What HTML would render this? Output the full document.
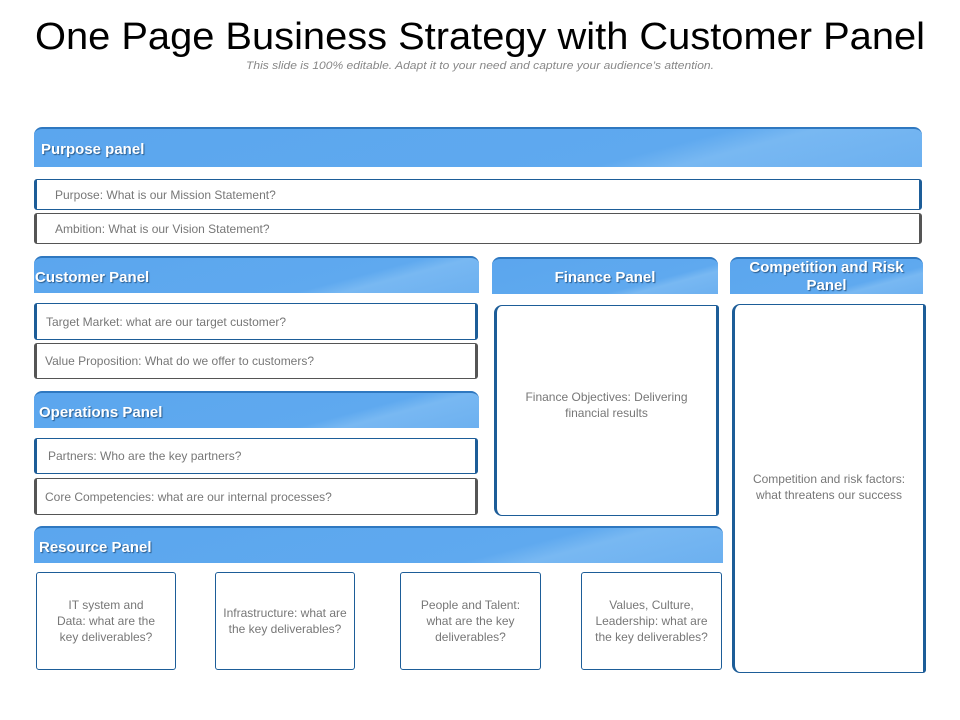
<!DOCTYPE html>
<html><head><meta charset="utf-8"><style>
body{margin:0;width:960px;height:720px;background:#fff;position:relative;overflow:hidden;font-family:"Liberation Sans",Arial,sans-serif}
.h{position:absolute;background:linear-gradient(165deg,#5ba6ee 0%,#5fa9ef 68%,#78b8f2 76%,#6cb0f0 100%);border-top:2px solid #2f78c0;border-radius:8px 8px 0 0;color:#fff;font-weight:bold;font-size:15px;text-shadow:1px 1px 1px #2a5a8a;box-sizing:border-box;padding-top:3px}
.b{position:absolute;box-sizing:border-box;border:1.5px solid #1d5d98;border-left-width:3px;border-right-width:3px;border-radius:3px;background:#fff;color:#777;font-size:12px}
.g{border-color:#555}
.c{display:flex;align-items:center;justify-content:center;text-align:center;line-height:16px}
.l{display:flex;align-items:center}
</style></head><body>
<svg style="position:absolute;left:0;top:0" width="960" height="80">
<text x="480" y="49" text-anchor="middle" font-family="Liberation Sans" font-size="38" textLength="890" lengthAdjust="spacingAndGlyphs" fill="#000">One Page Business Strategy with Customer Panel</text>
<text x="480" y="69" text-anchor="middle" font-family="Liberation Sans" font-size="11" font-style="italic" fill="#888" textLength="468" lengthAdjust="spacingAndGlyphs">This slide is 100% editable. Adapt it to your need and capture your audience’s attention.</text>
</svg>

<div class="h l" style="left:34px;top:127px;width:888px;height:40px;padding-left:7px">Purpose panel</div>
<div class="b l" style="left:34px;top:179px;width:888px;height:31px;padding-left:18px">Purpose: What is our Mission Statement?</div>
<div class="b l g" style="left:34px;top:213px;width:888px;height:31px;padding-left:18px">Ambition: What is our Vision Statement?</div>

<div class="h l" style="left:34px;top:256px;width:445px;height:37px;padding-left:1px">Customer Panel</div>
<div class="b l" style="left:34px;top:303px;width:444px;height:37px;padding-left:9px">Target Market: what are our target customer?</div>
<div class="b l g" style="left:34px;top:343px;width:444px;height:36px;padding-left:8px">Value Proposition: What do we offer to customers?</div>

<div class="h l" style="left:34px;top:391px;width:445px;height:37px;padding-left:5px">Operations Panel</div>
<div class="b l" style="left:34px;top:438px;width:444px;height:36px;padding-left:11px">Partners: Who are the key partners?</div>
<div class="b l g" style="left:34px;top:478px;width:444px;height:37px;padding-left:8px">Core Competencies: what are our internal processes?</div>

<div class="h l" style="left:34px;top:526px;width:689px;height:37px;padding-left:5px">Resource Panel</div>
<div class="b c" style="left:36px;top:572px;width:140px;height:98px;border-width:1.5px">IT system and<br>Data: what are the<br>key deliverables?</div>
<div class="b c" style="left:215px;top:572px;width:140px;height:98px;border-width:1.5px">Infrastructure: what are<br>the key deliverables?</div>
<div class="b c" style="left:400px;top:572px;width:141px;height:98px;border-width:1.5px">People and Talent:<br>what are the key<br>deliverables?</div>
<div class="b c" style="left:581px;top:572px;width:141px;height:98px;border-width:1.5px">Values, Culture,<br>Leadership: what are<br>the key deliverables?</div>

<div class="h c" style="left:492px;top:257px;width:226px;height:37px">Finance Panel</div>
<div class="b c" style="left:494px;top:305px;width:225px;height:211px;border-radius:8px 3px 3px 8px"><div style="margin-top:-12px">Finance Objectives: Delivering<br>financial results</div></div>

<div class="h c" style="left:730px;top:257px;width:193px;height:37px;line-height:18px;padding-top:0">Competition and Risk<br>Panel</div>
<div class="b c" style="left:732px;top:304px;width:194px;height:369px;border-radius:8px 3px 3px 8px"><div style="margin-top:-4px">Competition and risk factors:<br>what threatens our success</div></div>
</body></html>
